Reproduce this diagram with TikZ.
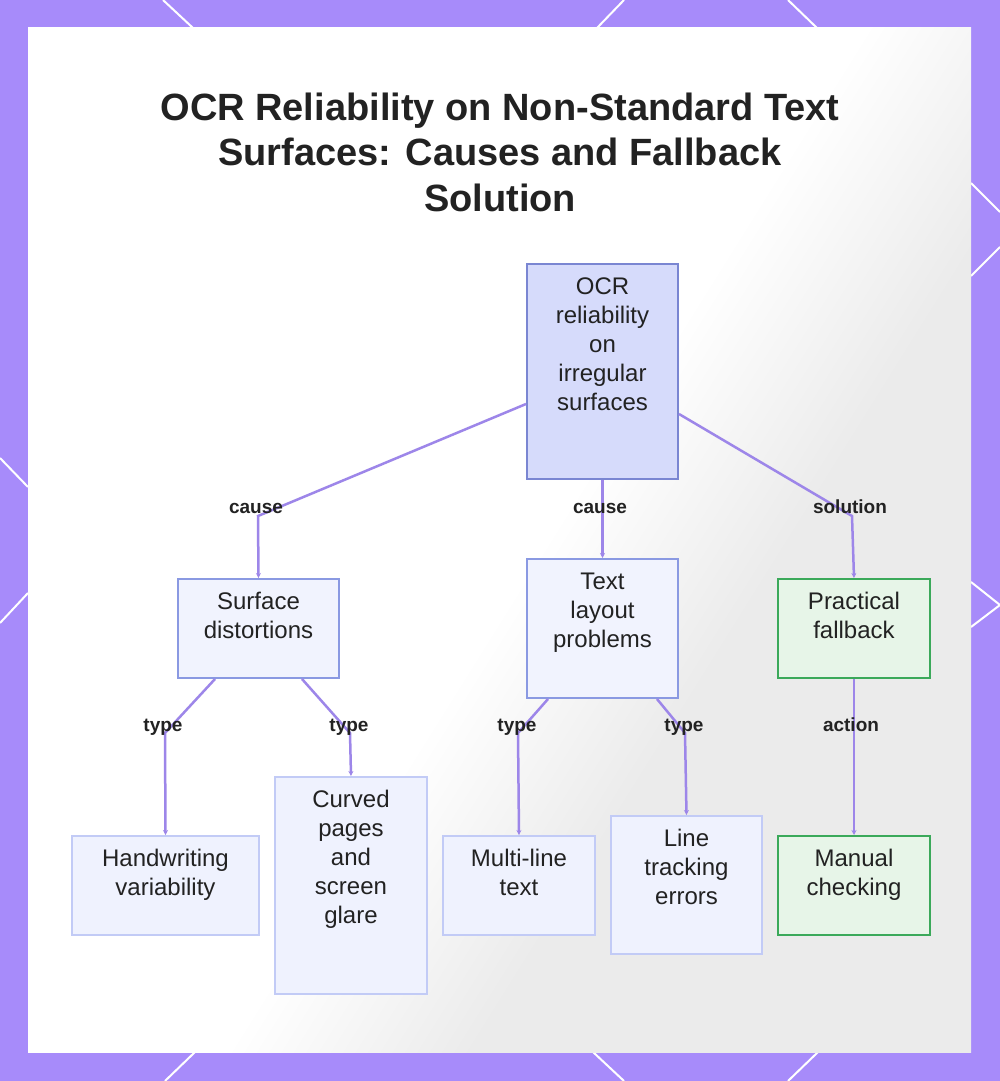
\documentclass[tikz,border=0pt]{standalone}
\usepackage{fontspec}
\setmainfont{Liberation Sans}
\usetikzlibrary{arrows.meta,calc}
\definecolor{framec}{HTML}{A78BFA}
\definecolor{edgec}{HTML}{9D86E9}
\definecolor{txtc}{HTML}{222222}
\definecolor{rootfill}{HTML}{D6DBFB}
\definecolor{rootdraw}{HTML}{7A86D2}
\definecolor{midfill}{HTML}{F1F3FE}
\definecolor{middraw}{HTML}{8A99E2}
\definecolor{leaffill}{HTML}{EFF2FE}
\definecolor{leafdraw}{HTML}{C2CBF6}
\definecolor{grnfill}{HTML}{E7F5E8}
\definecolor{grndraw}{HTML}{3BA95A}
\pgfdeclarehorizontalshading{cardshade}{100bp}{color(0bp)=(white); color(52bp)=(white); color(63bp)=(black!8); color(88bp)=(black!8); color(100bp)=(black!4)}
\newcommand{\nodetxt}[3]{\begin{minipage}[c][#2pt][t]{#1pt}\centering\fontsize{24}{29}\selectfont\rule{0pt}{30pt}#3\end{minipage}}
\tikzset{
  basebox/.style={draw, line width=2pt, inner sep=0pt, anchor=north west, text=txtc},
  rootbox/.style={basebox, fill=rootfill, draw=rootdraw},
  midbox/.style={basebox, fill=midfill, draw=middraw},
  leafbox/.style={basebox, fill=leaffill, draw=leafdraw},
  grnbox/.style={basebox, fill=grnfill, draw=grndraw},
  edge/.style={draw=edgec, line width=2.5pt, -{Stealth[length=5pt,width=5pt]}},
  lbl/.style={font=\fontsize{19}{22}\selectfont\bfseries, text=txtc, inner sep=1pt, text height=14pt, text depth=4pt},
  deco/.style={draw=white, line width=2pt}
}
\begin{document}
\begin{tikzpicture}[x=1pt,y=-1pt]
\useasboundingbox (0,0) rectangle (1000,1081);
% frame
\fill[framec] (0,0) rectangle (1000,1081);
\draw[deco] (163,0) -- (193,28);
\draw[deco] (624,0) -- (597,28);
\draw[deco] (788,0) -- (817,28);
\draw[deco] (0,458) -- (28,487);
\draw[deco] (28,593) -- (0,623);
\draw[deco] (971,183) -- (1000,212);
\draw[deco] (1000,247) -- (971,276);
\draw[deco] (971,582) -- (1000,605) -- (971,627);
\draw[deco] (195,1052) -- (165,1081);
\draw[deco] (593,1052) -- (624,1081);
\draw[deco] (818,1052) -- (788,1081);
% card
\fill[white] (28,28) rectangle (971,1052);
\shade[shading=cardshade, shading angle=-32] (28,28) rectangle (971,1052);
% title
\node[font=\fontsize{38}{45.5}\selectfont\bfseries, text=txtc, align=center] (title) at (500,152)
  {OCR Reliability on Non-Standard Text\\Surfaces: Causes and Fallback\\Solution};
% nodes
\node[rootbox] (root) at (526,263) {\nodetxt{151}{215}{OCR\\reliability\\on\\irregular\\surfaces}};
\node[midbox] (surf) at (177,578) {\nodetxt{161}{99}{Surface\\distortions}};
\node[midbox] (layout) at (526,558) {\nodetxt{151}{139}{Text\\layout\\problems}};
\node[grnbox] (prac) at (777,578) {\nodetxt{152}{99}{Practical\\fallback}};
\node[leafbox] (hw) at (71,835) {\nodetxt{187}{99}{Handwriting\\variability}};
\node[leafbox] (curved) at (274,776) {\nodetxt{152}{217}{Curved\\pages\\and\\screen\\glare}};
\node[leafbox] (multi) at (442,835) {\nodetxt{152}{99}{Multi-line\\text}};
\node[leafbox] (linetr) at (610,815) {\nodetxt{151}{138}{Line\\tracking\\errors}};
\node[grnbox] (manual) at (777,835) {\nodetxt{152}{99}{Manual\\checking}};
% edges
\draw[edge] ([yshift=-32.5pt]root.west) -- (258,516) -- (surf.north);
\draw[edge] (root.south) -- (layout.north);
\draw[edge] ([yshift=-42.5pt]root.east) -- (852,516) -- (prac.north);
\draw[edge] ([xshift=38pt]surf.south west) -- (165,733) -- (hw.north);
\draw[edge] ([xshift=-38pt]surf.south east) -- (350,733) -- (curved.north);
\draw[edge] ([xshift=22pt]layout.south west) -- (518,733) -- (multi.north);
\draw[edge] ([xshift=-22pt]layout.south east) -- (685,733) -- (linetr.north);
\draw[edge] (prac.south) -- (manual.north);
% labels
\node[lbl] (l1) at (256,508) {cause};
\node[lbl] (l2) at (600,508) {cause};
\node[lbl] (l3) at (850,508) {solution};
\node[lbl] (l4) at (163,726) {type};
\node[lbl] (l5) at (349,726) {type};
\node[lbl] (l6) at (517,726) {type};
\node[lbl] (l7) at (684,726) {type};
\node[lbl] (l8) at (851,726) {action};
\end{tikzpicture}
\end{document}
